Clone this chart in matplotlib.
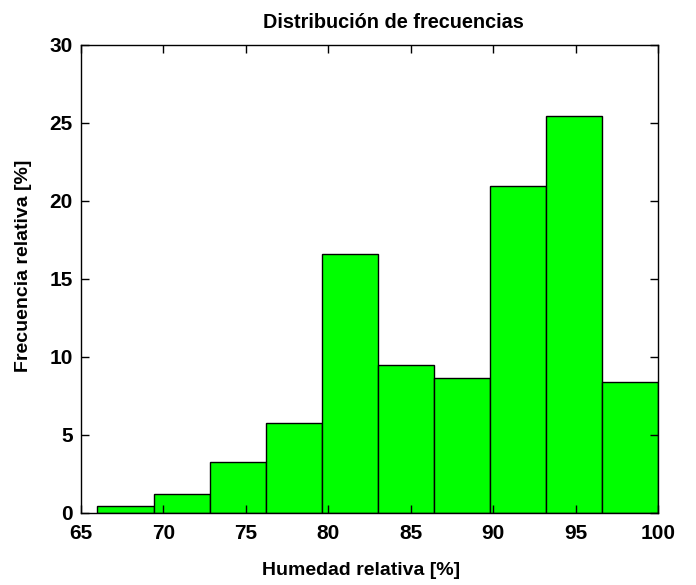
import numpy as np
import matplotlib
matplotlib.use("Agg")
import matplotlib.pyplot as plt

# histogram data
bin_edges = [66.0, 69.4, 72.8, 76.2, 79.6, 83.0, 86.4, 89.8, 93.2, 96.6, 100.0]
rel_freq = [0.43, 1.2, 3.25, 5.8, 16.6, 9.46, 8.65, 20.96, 25.45, 8.37]
x_ticks = [65, 70, 75, 80, 85, 90, 95, 100]
y_ticks = [0, 5, 10, 15, 20, 25, 30]

plt.rcParams['font.family'] = ['Liberation Sans', 'DejaVu Sans']
plt.rcParams['font.weight'] = 'bold'

W, H = 696, 585
fig = plt.figure(figsize=(W / 100, H / 100), dpi=100)
ax = fig.add_axes([81/W, 1 - 513/H, (658 - 81)/W, (513 - 45)/H])

edges = np.array(bin_edges)
ax.bar(edges[:-1], rel_freq, width=np.diff(edges), align='edge',
       color='#00ff00', edgecolor='black', linewidth=1.0)

ax.set_xlim(65, 100)
ax.set_ylim(0, 30)
ax.set_xticks(x_ticks)
ax.set_yticks(y_ticks)
ax.tick_params(direction='in', top=True, right=True, length=6, width=1,
               labelsize=15)
ax.tick_params(axis='x', pad=8)
ax.tick_params(axis='y', pad=6)
for lab in ax.get_xticklabels() + ax.get_yticklabels():
    lab.set_fontweight('bold')
for s in ax.spines.values():
    s.set_linewidth(1)

# title and labels are a bit off-centre in the original
fig.text(393/W, 1 - 28/H, 'Distribución de frecuencias', fontsize=14.3,
         fontweight='bold', ha='center', va='baseline')
ax.set_xlabel('Humedad relativa [%]', fontsize=14, fontweight='bold', va='baseline')
ax.xaxis.set_label_coords((361.5 - 81) / 577, (513 - 575) / 468)
ax.set_ylabel('Frecuencia relativa [%]', fontsize=14, fontweight='bold', va='center')
ax.yaxis.set_label_coords((24 - 81) / 577, (513 - 266) / 468)

fig.savefig('out.png', dpi=100)
